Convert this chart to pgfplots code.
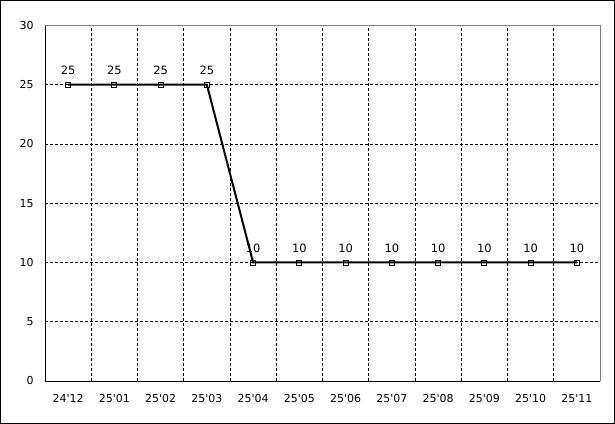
\documentclass[border=0pt]{standalone}
\usepackage{pgfplots}
\pgfplotsset{compat=1.18}
\usepackage{fontspec}
\setmainfont{DejaVu Sans}
\newcommand{\q}{\textquotesingle}
\begin{document}
\begin{tikzpicture}
\path[use as bounding box] (-45bp,-43bp) rectangle (570bp,381bp);
\draw[line width=1bp] (-44.5bp,-42.5bp) rectangle (569.5bp,380.5bp);
\begin{axis}[
  scale only axis,
  width=555bp, height=355.5bp,
  at={(0,0)}, anchor=south west,
  xmin=-0.5, xmax=11.5, ymin=0, ymax=30,
  xtick={0,...,11},
  xticklabels={24\q12,25\q01,25\q02,25\q03,25\q04,25\q05,25\q06,25\q07,25\q08,25\q09,25\q10,25\q11},
  minor xtick={0.5,1.5,...,10.5},
  ytick={0,5,...,30},
  xmajorgrids=false, xminorgrids=true,
  ymajorgrids=true,
  grid style={black, line width=0.8bp, dash pattern=on 3bp off 2bp},
  minor grid style={black, line width=0.8bp, dash pattern=on 3bp off 2bp},
  major tick length=0pt, minor tick length=0pt,
  axis line style={line width=1bp},
  axis x line*=bottom, axis y line*=left,
  tick label style={font=\fontsize{11}{13}\selectfont},
  /pgf/number format/assume math mode=true,
  yticklabel style={xshift=-8bp},
  xticklabel style={yshift=-10bp},
  clip=false,
]
\draw[gray, line width=1bp] (axis cs:-0.5,30) -- (axis cs:11.5,30) -- (axis cs:11.5,0);
\addplot[black, line width=2bp, mark=square, mark size=2.5bp,
  mark options={line width=0.9bp, fill=white, solid},
  nodes near coords, every node near coord/.append style={font=\fontsize{11.5}{13}\selectfont, black, yshift=6bp}]
  coordinates {(0,25) (1,25) (2,25) (3,25) (4,10) (5,10) (6,10) (7,10) (8,10) (9,10) (10,10) (11,10)};
\end{axis}
\end{tikzpicture}
\end{document}
